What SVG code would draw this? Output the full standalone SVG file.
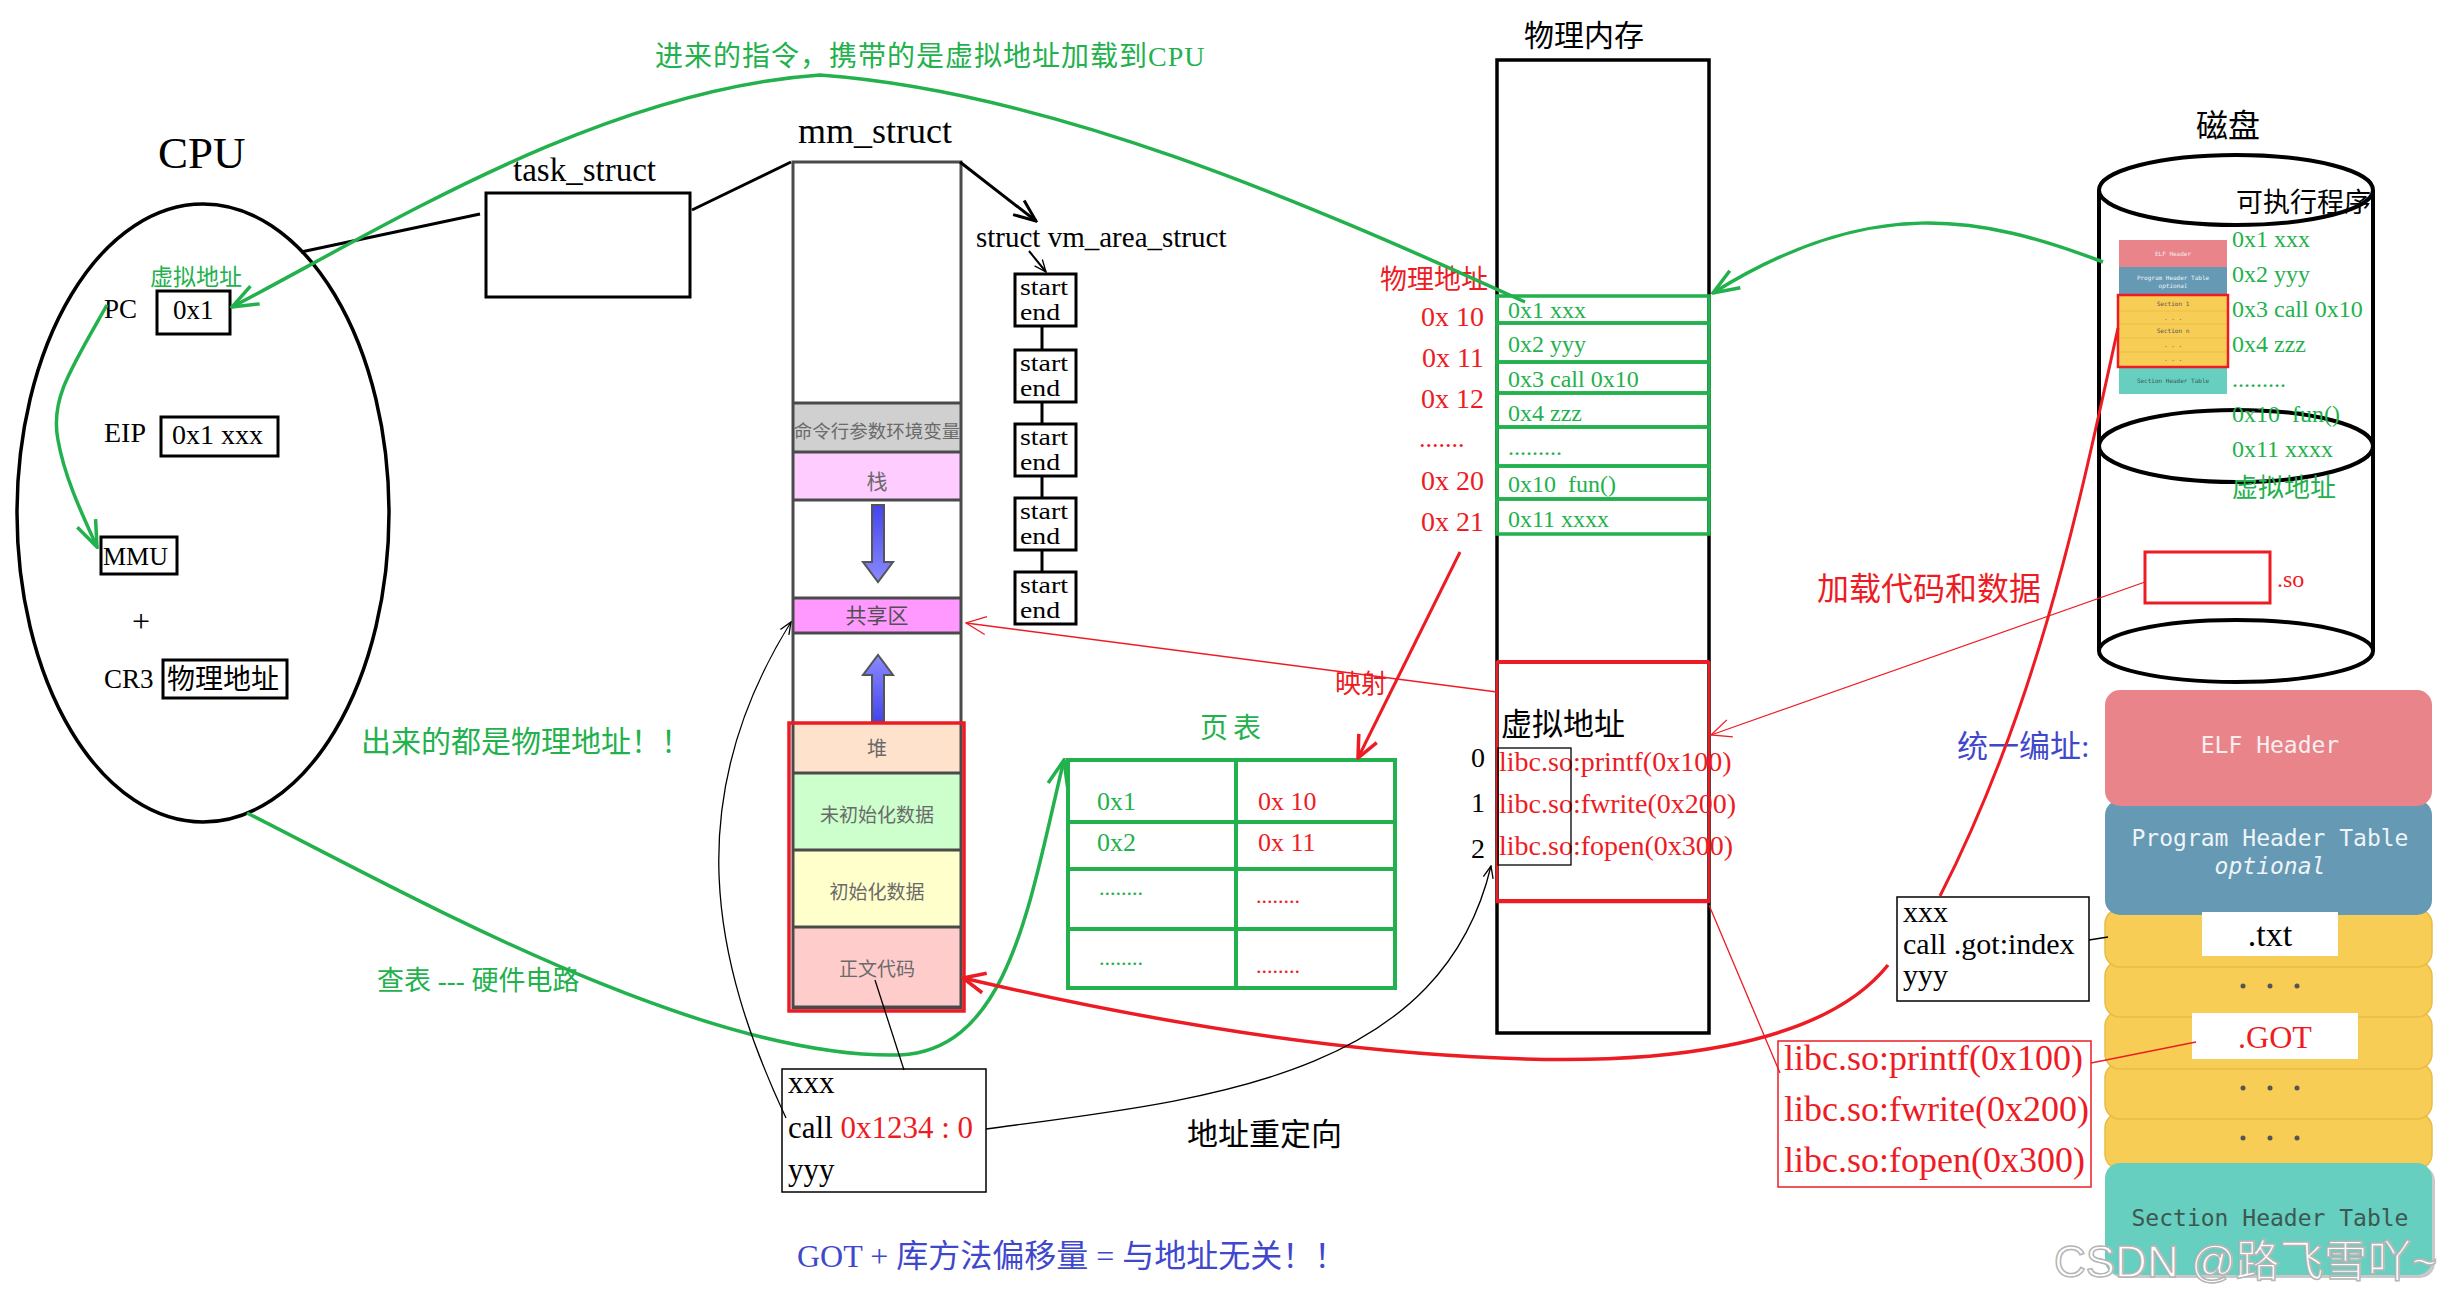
<svg xmlns="http://www.w3.org/2000/svg" width="2459" height="1303" viewBox="0 0 2459 1303">
<style>
text{font-family:"Liberation Serif","Noto Sans CJK SC",serif}
text.cj,.cj text{font-family:"Noto Sans CJK SC",sans-serif}
.g{fill:#22b14c}
.r{fill:#ed1c24}
.b{fill:#3f48cc}
.box{fill:#fff;stroke:#000;stroke-width:3}
.thin{fill:none;stroke:#000;stroke-width:1.3}
.gl{fill:none;stroke:#22b14c;stroke-width:3.5}
.rl{fill:none;stroke:#ed1c24;stroke-width:3.5}
.rt{fill:none;stroke:#ed1c24;stroke-width:1.3}
.kl{fill:none;stroke:#000;stroke-width:3}
.mono text,text.mono{font-family:"DejaVu Sans Mono",monospace}
.sep{stroke:#4a4a4a;stroke-width:3}
text.segt{font-family:"Noto Sans CJK SC",sans-serif;fill:#6a6a6a;text-anchor:middle}
.grow{fill:none;stroke:#22b14c;stroke-width:3.5}
.se{font-size:23px}
.pre{white-space:pre}
.dot{fill:#555}
</style>
<defs>
<marker id="mG" viewBox="0 0 30 24" refX="28" refY="12" markerWidth="30" markerHeight="24" orient="auto" markerUnits="userSpaceOnUse"><path d="M2,2 L28,12 L2,22" fill="none" stroke="#22b14c" stroke-width="3.5"/></marker>
<marker id="mR" viewBox="0 0 26 24" refX="24" refY="12" markerWidth="26" markerHeight="24" orient="auto" markerUnits="userSpaceOnUse"><path d="M2,2 L24,12 L2,22" fill="none" stroke="#ed1c24" stroke-width="3.5"/></marker>
<marker id="mr" viewBox="0 0 22 20" refX="21" refY="10" markerWidth="22" markerHeight="20" orient="auto" markerUnits="userSpaceOnUse"><path d="M1,1 L21,10 L1,19" fill="none" stroke="#ed1c24" stroke-width="1.3"/></marker>
<marker id="mK" viewBox="0 0 26 22" refX="24" refY="11" markerWidth="26" markerHeight="22" orient="auto" markerUnits="userSpaceOnUse"><path d="M2,2 L24,11 L2,20" fill="none" stroke="#000" stroke-width="3"/></marker>
<marker id="mk" viewBox="0 0 14 12" refX="13" refY="6" markerWidth="14" markerHeight="12" orient="auto" markerUnits="userSpaceOnUse"><path d="M1,1 L13,6 L1,11" fill="none" stroke="#000" stroke-width="1.3"/></marker>
<linearGradient id="blu" x1="0" y1="0" x2="0" y2="1"><stop offset="0" stop-color="#4444ee"/><stop offset="1" stop-color="#8a8aff"/></linearGradient>
<linearGradient id="blu2" x1="0" y1="1" x2="0" y2="0"><stop offset="0" stop-color="#4444ee"/><stop offset="1" stop-color="#8a8aff"/></linearGradient>
</defs>
<rect width="2459" height="1303" fill="#fff"/>

<g id="labels">
<text x="655" y="66" font-size="28" class="g" letter-spacing="1">进来的指令，携带的是虚拟地址加载到CPU</text>
<text x="361" y="752" font-size="30" class="g cj">出来的都是物理地址！！</text>
<text x="377" y="990" font-size="27" class="g">查表 --- 硬件电路</text>
<text x="797" y="1267" font-size="32" class="b">GOT + 库方法偏移量 = 与地址无关！！</text>
<text x="1187" y="1145" font-size="31" class="cj">地址重定向</text>
<text x="1335" y="693" font-size="26" class="r cj">映射</text>
<text x="1817" y="600" font-size="32" class="r cj">加载代码和数据</text>
<text x="1957" y="757" font-size="31" class="b">统一编址:</text>
</g>

<g id="cpu">
<text x="158" y="168" font-size="45">CPU</text>
<ellipse cx="203" cy="513" rx="186" ry="309" fill="none" stroke="#000" stroke-width="3.5"/>
<text x="150" y="285" font-size="23" class="g cj">虚拟地址</text>
<text x="104" y="318" font-size="27">PC</text>
<rect x="157" y="291" width="73" height="43" class="box"/>
<text x="173" y="319" font-size="27">0x1</text>
<text x="104" y="442" font-size="28">EIP</text>
<rect x="161" y="417" width="117" height="39" class="box"/>
<text x="172" y="444" font-size="28">0x1 xxx</text>
<rect x="101" y="537" width="76" height="37" class="box"/>
<text x="103" y="565" font-size="26">MMU</text>
<text x="141" y="632" font-size="32" text-anchor="middle">+</text>
<text x="104" y="688" font-size="27">CR3</text>
<rect x="163" y="660" width="124" height="38" class="box"/>
<text x="167" y="689" font-size="28" class="cj">物理地址</text>
</g>

<g id="task_struct">
<text x="513" y="181" font-size="33">task_struct</text>
<rect x="486" y="193" width="204" height="104" class="box"/>
</g>

<g id="mm_struct">
<text x="798" y="143" font-size="36">mm_struct</text>
<rect x="793" y="162" width="168" height="846" fill="#fff"/>
<rect x="793" y="403" width="168" height="49" fill="#d0d0d0"/>
<rect x="793" y="452" width="168" height="48" fill="#ffccff"/>
<rect x="793" y="598" width="168" height="35" fill="#ff99ff"/>
<rect x="793" y="723" width="168" height="50" fill="#ffe2cc"/>
<rect x="793" y="773" width="168" height="77" fill="#ccffcc"/>
<rect x="793" y="850" width="168" height="77" fill="#ffffcc"/>
<rect x="793" y="927" width="168" height="80" fill="#ffcccc"/>
<g class="sep">
<line x1="793" y1="403" x2="961" y2="403"/><line x1="793" y1="452" x2="961" y2="452"/>
<line x1="793" y1="500" x2="961" y2="500"/><line x1="793" y1="598" x2="961" y2="598"/>
<line x1="793" y1="633" x2="961" y2="633"/><line x1="793" y1="773" x2="961" y2="773"/>
<line x1="793" y1="850" x2="961" y2="850"/><line x1="793" y1="927" x2="961" y2="927"/>
<line x1="793" y1="1007" x2="961" y2="1007"/>
</g>
<rect x="793" y="162" width="168" height="846" fill="none" stroke="#4a4a4a" stroke-width="3"/>
<text x="877" y="438" font-size="18.5" class="segt">命令行参数环境变量</text>
<text x="877" y="489" font-size="21" class="segt">栈</text>
<text x="877" y="623" font-size="21" class="segt" style="fill:#505050">共享区</text>
<text x="877" y="756" font-size="20" class="segt">堆</text>
<text x="877" y="822" font-size="19" class="segt">未初始化数据</text>
<text x="877" y="899" font-size="19" class="segt">初始化数据</text>
<text x="877" y="976" font-size="19" class="segt">正文代码</text>
<path d="M872,505 H884 V562 H893 L878,582 L863,562 H872 Z" fill="url(#blu)" stroke="#555" stroke-width="2"/>
<path d="M872,722 H884 V675 H893 L878,655 L863,675 H872 Z" fill="url(#blu2)" stroke="#555" stroke-width="2"/>
<rect x="789" y="723" width="175" height="288" fill="none" stroke="#ed1c24" stroke-width="3.5"/>
</g>

<g id="vm_area_struct">
<text x="976" y="247" font-size="29">struct vm_area_struct</text>
</g>
<g id="vma1"><rect x="1015" y="274" width="61" height="52" class="box"/><text x="1020" y="295" class="se" textLength="48" lengthAdjust="spacingAndGlyphs">start</text><text x="1020" y="320" class="se" textLength="40" lengthAdjust="spacingAndGlyphs">end</text></g>
<g id="vma2"><rect x="1015" y="350" width="61" height="52" class="box"/><text x="1020" y="371" class="se" textLength="48" lengthAdjust="spacingAndGlyphs">start</text><text x="1020" y="396" class="se" textLength="40" lengthAdjust="spacingAndGlyphs">end</text></g>
<g id="vma3"><rect x="1015" y="424" width="61" height="52" class="box"/><text x="1020" y="445" class="se" textLength="48" lengthAdjust="spacingAndGlyphs">start</text><text x="1020" y="470" class="se" textLength="40" lengthAdjust="spacingAndGlyphs">end</text></g>
<g id="vma4"><rect x="1015" y="498" width="61" height="52" class="box"/><text x="1020" y="519" class="se" textLength="48" lengthAdjust="spacingAndGlyphs">start</text><text x="1020" y="544" class="se" textLength="40" lengthAdjust="spacingAndGlyphs">end</text></g>
<g id="vma5"><rect x="1015" y="572" width="61" height="52" class="box"/><text x="1020" y="593" class="se" textLength="48" lengthAdjust="spacingAndGlyphs">start</text><text x="1020" y="618" class="se" textLength="40" lengthAdjust="spacingAndGlyphs">end</text></g>

<g id="physical_memory">
<text x="1524" y="46" font-size="30" class="cj">物理内存</text>
<rect x="1497" y="60" width="212" height="973" fill="none" stroke="#000" stroke-width="3.5"/>
<rect x="1497" y="296" width="212" height="27" class="grow"/>
<rect x="1497" y="323" width="212" height="39" class="grow"/>
<rect x="1497" y="362" width="212" height="31" class="grow"/>
<rect x="1497" y="393" width="212" height="34" class="grow"/>
<rect x="1497" y="427" width="212" height="39" class="grow"/>
<rect x="1497" y="466" width="212" height="33" class="grow"/>
<rect x="1497" y="499" width="212" height="35" class="grow"/>
<g font-size="24" class="g">
<text x="1508" y="318">0x1 xxx</text>
<text x="1508" y="352">0x2 yyy</text>
<text x="1508" y="387">0x3 call 0x10</text>
<text x="1508" y="421">0x4 zzz</text>
<text x="1508" y="455">.........</text>
<text x="1508" y="492" class="pre">0x10  fun()</text>
<text x="1508" y="527">0x11 xxxx</text>
</g>
<text x="1380" y="289" font-size="27" class="r cj">物理地址</text>
<g font-size="28" class="r" text-anchor="end">
<text x="1484" y="326">0x 10</text>
<text x="1484" y="367">0x 11</text>
<text x="1484" y="408">0x 12</text>
<text x="1484" y="490">0x 20</text>
<text x="1484" y="531">0x 21</text>
</g>
<text x="1419" y="447" font-size="26" class="r">.......</text>
<rect x="1497" y="662" width="212" height="240" fill="none" stroke="#ed1c24" stroke-width="2.5"/>
<line x1="1497" y1="662" x2="1709" y2="662" stroke="#ed1c24" stroke-width="4"/>
<line x1="1497" y1="901" x2="1709" y2="901" stroke="#ed1c24" stroke-width="4"/>
<text x="1501" y="735" font-size="31" class="cj">虚拟地址</text>
<g font-size="28">
<text x="1471" y="767">0</text><text x="1471" y="812">1</text><text x="1471" y="858">2</text>
</g>
<g font-size="28" class="r">
<text x="1499" y="771">libc.so:printf(0x100)</text>
<text x="1499" y="813">libc.so:fwrite(0x200)</text>
<text x="1499" y="855">libc.so:fopen(0x300)</text>
</g>
<rect x="1498" y="748" width="73" height="117" class="thin"/>
</g>

<g id="disk">
<text x="2196" y="137" font-size="32" class="cj">磁盘</text>
<line x1="2099" y1="190" x2="2099" y2="651" stroke="#000" stroke-width="4"/>
<line x1="2373" y1="190" x2="2373" y2="651" stroke="#000" stroke-width="4"/>
<ellipse cx="2236" cy="190" rx="137" ry="35" fill="#fff" stroke="#000" stroke-width="4"/>
<ellipse cx="2236" cy="446" rx="137" ry="36" fill="none" stroke="#000" stroke-width="4"/>
<ellipse cx="2236" cy="651" rx="137" ry="31" fill="#fff" stroke="#000" stroke-width="4"/>
<text x="2236" y="212" font-size="27" class="cj">可执行程序</text>
<g id="mini_elf">
<rect x="2119" y="240" width="108" height="27" fill="#e8848a"/>
<rect x="2119" y="267" width="108" height="28" fill="#6699b4"/>
<rect x="2119" y="296" width="108" height="70" fill="#f7cd55"/>
<rect x="2119" y="367" width="108" height="27" fill="#66cfbf"/>
<g stroke="#e9c048" stroke-width="1"><line x1="2119" y1="311" x2="2227" y2="311"/><line x1="2119" y1="324" x2="2227" y2="324"/><line x1="2119" y1="338" x2="2227" y2="338"/><line x1="2119" y1="352" x2="2227" y2="352"/></g>
<rect x="2118" y="295" width="110" height="72" fill="none" stroke="#ed1c24" stroke-width="2.5"/>
<g class="mono" font-size="6" text-anchor="middle">
<text x="2173" y="256" fill="#fbeaea">ELF Header</text>
<text x="2173" y="280" fill="#eef4f8">Program Header Table</text>
<text x="2173" y="288" fill="#eef4f8" font-style="italic">optional</text>
<text x="2173" y="306" fill="#555">Section 1</text>
<text x="2173" y="320" fill="#555">. . .</text>
<text x="2173" y="333" fill="#555">Section n</text>
<text x="2173" y="347" fill="#555">. . .</text>
<text x="2173" y="361" fill="#555">. . .</text>
<text x="2173" y="383" fill="#3d5a55">Section Header Table</text>
</g>
</g>
<g font-size="24" class="g">
<text x="2232" y="247">0x1 xxx</text>
<text x="2232" y="282">0x2 yyy</text>
<text x="2232" y="317">0x3 call 0x10</text>
<text x="2232" y="352">0x4 zzz</text>
<text x="2232" y="387">.........</text>
<text x="2232" y="422" class="pre">0x10  fun()</text>
<text x="2232" y="457">0x11 xxxx</text>
</g>
<text x="2232" y="497" font-size="26" class="g cj">虚拟地址</text>
<rect x="2145" y="552" width="125" height="51" fill="none" stroke="#ed1c24" stroke-width="3"/>
<text x="2277" y="587" font-size="24" class="r">.so</text>
</g>

<g id="page_table">
<text x="1200" y="738" font-size="28" class="g cj" letter-spacing="5">页表</text>
<rect x="1068" y="760" width="327" height="228" class="grow" style="stroke-width:4"/>
<g stroke="#22b14c" stroke-width="4">
<line x1="1068" y1="822" x2="1395" y2="822"/><line x1="1068" y1="869" x2="1395" y2="869"/><line x1="1068" y1="929" x2="1395" y2="929"/>
<line x1="1236" y1="760" x2="1236" y2="988"/>
</g>
<g font-size="26">
<text x="1097" y="810" class="g">0x1</text><text x="1258" y="810" class="r">0x 10</text>
<text x="1097" y="851" class="g">0x2</text><text x="1258" y="851" class="r">0x 11</text>
</g>
<g font-size="22">
<text x="1099" y="895" class="g">........</text><text x="1256" y="903" class="r">........</text>
<text x="1099" y="965" class="g">........</text><text x="1256" y="973" class="r">........</text>
</g>
</g>

<g id="code_box">
<rect x="782" y="1069" width="204" height="123" fill="#fff" stroke="#000" stroke-width="1.5"/>
<g font-size="31">
<text x="788" y="1093">xxx</text>
<text x="788" y="1138">call <tspan class="r">0x1234 : 0</tspan></text>
<text x="788" y="1180">yyy</text>
</g>
</g>

<g id="got_call_box">
<rect x="1897" y="897" width="192" height="104" fill="#fff" stroke="#000" stroke-width="1.5"/>
<g font-size="30">
<text x="1903" y="922">xxx</text>
<text x="1903" y="954">call .got:index</text>
<text x="1903" y="985">yyy</text>
</g>
</g>

<g id="libc_box">
<rect x="1778" y="1041" width="313" height="146" fill="#fff" stroke="#ed1c24" stroke-width="1.5"/>
<g font-size="36" class="r">
<text x="1784" y="1070">libc.so:printf(0x100)</text>
<text x="1784" y="1121">libc.so:fwrite(0x200)</text>
<text x="1784" y="1172">libc.so:fopen(0x300)</text>
</g>
</g>

<g id="elf_layout">
<rect x="2108" y="1166" width="327" height="112" rx="15" fill="#c9c9c9"/>
<rect x="2105" y="1113" width="327" height="56" rx="15" fill="#f7cd55" stroke="#e8bd45" stroke-width="1.5"/>
<rect x="2105" y="1063" width="327" height="56" rx="15" fill="#f7cd55" stroke="#e8bd45" stroke-width="1.5"/>
<rect x="2105" y="1011" width="327" height="58" rx="15" fill="#f7cd55" stroke="#e8bd45" stroke-width="1.5"/>
<rect x="2105" y="961" width="327" height="56" rx="15" fill="#f7cd55" stroke="#e8bd45" stroke-width="1.5"/>
<rect x="2105" y="909" width="327" height="58" rx="15" fill="#f7cd55" stroke="#e8bd45" stroke-width="1.5"/>
<rect x="2105" y="800" width="327" height="115" rx="15" fill="#6699b4"/>
<rect x="2105" y="690" width="327" height="116" rx="15" fill="#e8848a"/>
<rect x="2105" y="1163" width="327" height="112" rx="15" fill="#66cfbf"/>
<g class="mono" text-anchor="middle">
<text x="2270" y="753" font-size="23" fill="#f8eeee">ELF Header</text>
<text x="2270" y="846" font-size="23" fill="#eef4f8">Program Header Table</text>
<text x="2270" y="874" font-size="23" fill="#eef4f8" font-style="italic">optional</text>
<text x="2270" y="1226" font-size="23" fill="#3d5752">Section Header Table</text>
</g>
<rect x="2202" y="912" width="136" height="44" fill="#fff"/>
<text x="2270" y="946" font-size="34" text-anchor="middle">.txt</text>
<rect x="2192" y="1013" width="166" height="46" fill="#fff"/>
<text x="2275" y="1048" font-size="32" text-anchor="middle" class="r">.GOT</text>
<g class="dot">
<circle cx="2243" cy="986" r="2.5"/><circle cx="2270" cy="986" r="2.5"/><circle cx="2297" cy="986" r="2.5"/>
<circle cx="2243" cy="1088" r="2.5"/><circle cx="2270" cy="1088" r="2.5"/><circle cx="2297" cy="1088" r="2.5"/>
<circle cx="2243" cy="1138" r="2.5"/><circle cx="2270" cy="1138" r="2.5"/><circle cx="2297" cy="1138" r="2.5"/>
</g>
</g>

<g id="connectors">
<path class="kl" d="M301,252 L480,214"/>
<path class="kl" d="M692,210 L791,162"/>
<path class="kl" d="M960,162 L1036,221" marker-end="url(#mK)"/>
<path class="thin" style="stroke-width:2" d="M1029,251 L1046,272" marker-end="url(#mk)"/>
<g class="kl">
<line x1="1042" y1="326" x2="1042" y2="350"/><line x1="1042" y1="402" x2="1042" y2="424"/>
<line x1="1042" y1="476" x2="1042" y2="498"/><line x1="1042" y1="550" x2="1042" y2="572"/>
</g>
<path class="gl" d="M1525,302 C1300,200 1050,92 820,75 C600,90 380,230 232,307" marker-end="url(#mG)"/>
<path class="gl" d="M2103,262 C1980,215 1870,195 1713,293" marker-end="url(#mG)"/>
<path class="gl" d="M107,305 C70,370 50,400 58,440 C65,480 85,520 97,547" marker-end="url(#mG)"/>
<path class="gl" d="M247,813 C400,890 700,1060 900,1055 C1010,1050 1030,900 1064,760" marker-end="url(#mG)"/>
<path class="rl" d="M1888,965 C1820,1050 1650,1065 1500,1058 C1300,1050 1100,1010 963,978" marker-end="url(#mR)"/>
<path class="rl" style="stroke-width:3" d="M2118,328 C2080,500 2040,700 1940,896"/>
<path class="rl" style="stroke-width:3" d="M1460,552 L1358,758" marker-end="url(#mR)"/>
<path class="rt" d="M1497,692 L966,623" marker-end="url(#mr)"/>
<path class="rt" d="M2145,582 L1711,735" marker-end="url(#mr)"/>
<path class="rt" d="M1709,905 L1780,1073"/>
<path class="rt" d="M2091,1063 L2196,1042"/>
<path class="thin" d="M875,980 L904,1070"/>
<path class="thin" d="M786,1118 C712,960 680,800 791,622" marker-end="url(#mk)"/>
<path class="thin" d="M986,1129 C1200,1100 1440,1080 1491,866" marker-end="url(#mk)"/>
<path class="thin" d="M2089,940 L2108,937"/>
</g>

<text x="2054" y="1277" font-size="44" fill="#fff" stroke="#b5b5b5" stroke-width="1.5" style="font-family:'Liberation Sans','Noto Sans CJK SC',sans-serif">CSDN @路飞雪吖~</text>
</svg>
